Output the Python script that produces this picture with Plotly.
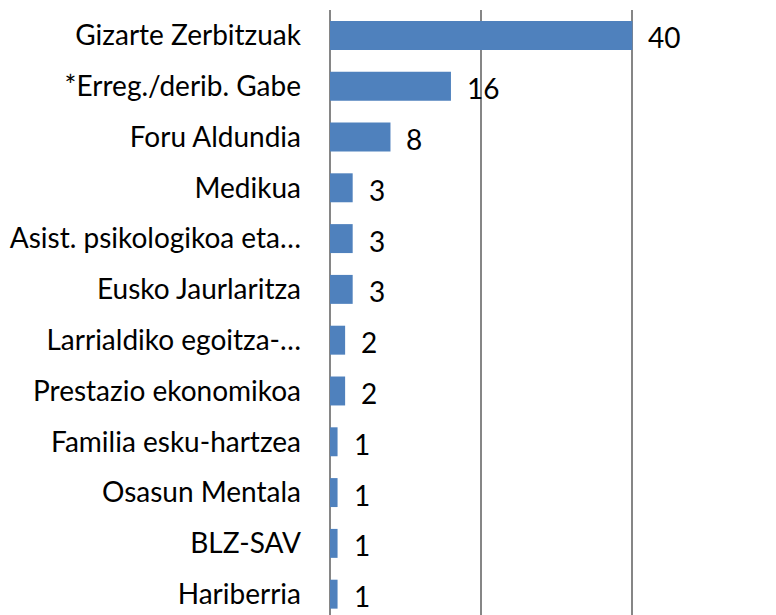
import plotly.graph_objects as go

categories = ["Gizarte Zerbitzuak", "*Erreg./derib. Gabe", "Foru Aldundia", "Medikua",
              "Asist. psikologikoa eta…", "Eusko Jaurlaritza", "Larrialdiko egoitza-…",
              "Prestazio ekonomikoa", "Familia esku-hartzea", "Osasun Mentala",
              "BLZ-SAV", "Hariberria"]
values = [40, 16, 8, 3, 3, 3, 2, 2, 1, 1, 1, 1]

FONT = "Lato, Carlito, 'Liberation Sans', sans-serif"

fig = go.Figure()
fig.add_trace(go.Bar(
    x=values, y=categories, orientation="h",
    marker=dict(color="#4F81BD", line=dict(width=0)),
    width=0.57,
    showlegend=False,
    hoverinfo="x+y",
))

for c, v in zip(categories, values):
    fig.add_annotation(x=v, y=c, text=str(v), showarrow=False,
                       xanchor="left", yanchor="middle", xshift=14, yshift=-2,
                       font=dict(family=FONT, size=28, color="#000000"))

fig.update_layout(
    width=768, height=607,
    margin=dict(l=322, r=0, t=2, b=0),
    plot_bgcolor="white", paper_bgcolor="white",
    xaxis=dict(range=[0, 59], showticklabels=False, showgrid=True,
               gridcolor="#868686", gridwidth=1.5, dtick=20, tick0=0,
               zeroline=True, zerolinecolor="#868686", zerolinewidth=1.5,
               showline=False, ticks="", automargin=False),
    yaxis=dict(categoryorder="array", categoryarray=categories,
               range=[11.41, -0.5], showgrid=False, showline=False, ticks="",
               ticklabelstandoff=28, automargin=False,
               tickfont=dict(family=FONT, size=28, color="#000000")),
)

fig.write_html("out.html")
